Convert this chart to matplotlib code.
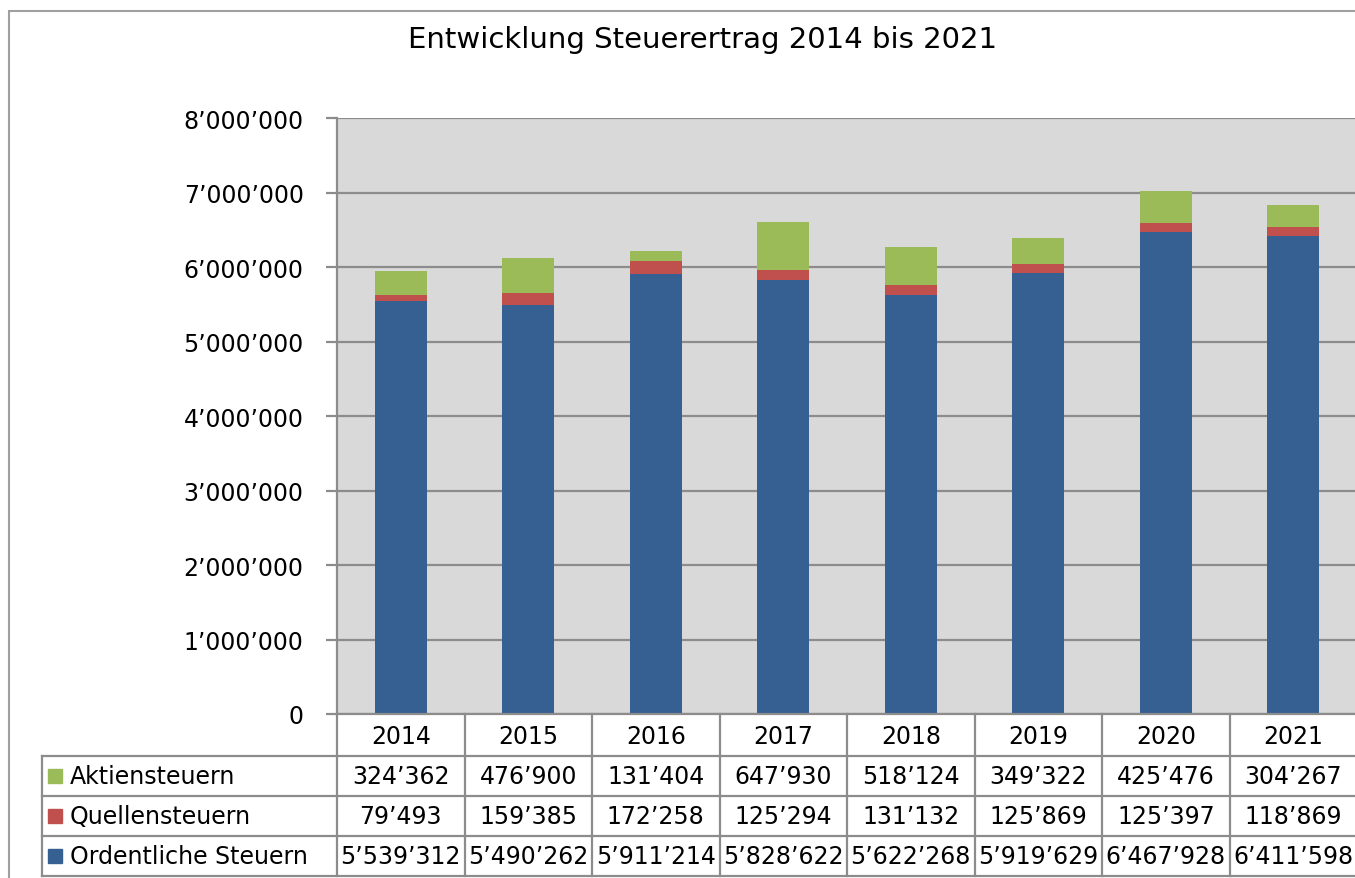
import matplotlib.pyplot as plt
from matplotlib.patches import Rectangle
from matplotlib.lines import Line2D
import numpy as np

years = ['2014', '2015', '2016', '2017', '2018', '2019', '2020', '2021']
ordentliche = [5539312, 5490262, 5911214, 5828622, 5622268, 5919629, 6467928, 6411598]
quellen = [79493, 159385, 172258, 125294, 131132, 125869, 125397, 118869]
aktien = [324362, 476900, 131404, 647930, 518124, 349322, 425476, 304267]

c_blue = '#366092'
c_red = '#c0504d'
c_green = '#9bbb59'
c_grid = '#8c8c8c'

W, H = 1355, 879


def fmt(v):
    return f'{int(v):,}'.replace(',', '\u2019')


plt.rcParams['font.family'] = ['DejaVu Sans']
fig = plt.figure(figsize=(W / 100, H / 100), dpi=100)

# plot area in pixels
px_l, px_r, px_t, px_b = 337, 1357, 119, 715
ax = fig.add_axes([px_l / W, 1 - px_b / H, (px_r - px_l) / W, (px_b - px_t) / H])
ax.set_facecolor('#d9d9d9')

x = np.arange(len(years))
ord_ = np.array(ordentliche)
que = np.array(quellen)
akt = np.array(aktien)
bw = 0.41
ax.bar(x, ord_, bw, color=c_blue, zorder=3)
ax.bar(x, que, bw, bottom=ord_, color=c_red, zorder=3)
ax.bar(x, akt, bw, bottom=ord_ + que, color=c_green, zorder=3)

ax.set_xlim(-0.5, len(years) - 0.5)
ax.set_ylim(0, 8000000)
ax.set_yticks(np.arange(0, 8000001, 1000000))
ax.set_yticklabels([fmt(v) for v in np.arange(0, 8000001, 1000000)], fontsize=17)
ax.yaxis.grid(True, color=c_grid, linewidth=1.6, zorder=1)
ax.set_xticks([])
for s in ['top', 'right', 'bottom']:
    ax.spines[s].set_visible(False)
ax.spines['left'].set_color(c_grid)
ax.spines['left'].set_linewidth(1.6)
ax.tick_params(axis='y', length=8, width=1.6, color=c_grid, pad=16)

# outer chart border (cut off on the right and bottom)
fig.add_artist(Rectangle((9 / W, -0.1), 2, 1.1 - 12 / H, transform=fig.transFigure,
                         fill=False, edgecolor='#a0a0a0', linewidth=1.5))

# title
fig.text(703 / W, 1 - 40 / H, 'Entwicklung Steuerertrag 2014 bis 2021',
         ha='center', va='center', fontsize=21)

# data table
def fx(p):
    return p / W


def fy(p):
    return 1 - p / H


col_w = (px_r - px_l) / len(years)
rows_y = [715, 757, 797, 837, 877]
lab_l = 42
lc = '#8c8c8c'
lw = 1.6

# horizontal lines
fig.add_artist(Line2D([fx(px_l), fx(px_r)], [fy(715), fy(715)], color=lc, lw=lw))
for ry in rows_y[1:]:
    fig.add_artist(Line2D([fx(lab_l), fx(px_r)], [fy(ry), fy(ry)], color=lc, lw=lw))
# vertical lines
for i in range(len(years) + 1):
    xx = px_l + i * col_w
    fig.add_artist(Line2D([fx(xx), fx(xx)], [fy(715), fy(877)], color=lc, lw=lw))
fig.add_artist(Line2D([fx(lab_l), fx(lab_l)], [fy(757), fy(877)], color=lc, lw=lw))

# header row
for i, yr in enumerate(years):
    fig.text(fx(px_l + (i + 0.5) * col_w), fy(737), yr, ha='center', va='center', fontsize=17)

series_rows = [('Aktiensteuern', aktien, c_green),
               ('Quellensteuern', quellen, c_red),
               ('Ordentliche Steuern', ordentliche, c_blue)]
for r, (name, vals, col) in enumerate(series_rows):
    top, bot = rows_y[r + 1], rows_y[r + 2]
    cy = (top + bot) / 2
    fig.add_artist(Rectangle((fx(48), fy(cy + 7)), 14 / W, 14 / H,
                             transform=fig.transFigure, color=col))
    fig.text(fx(70), fy(cy), name, ha='left', va='center', fontsize=17)
    for i, v in enumerate(vals):
        fig.text(fx(px_l + (i + 0.5) * col_w), fy(cy), fmt(v),
                 ha='center', va='center', fontsize=17)

fig.savefig('out.png', dpi=100)
